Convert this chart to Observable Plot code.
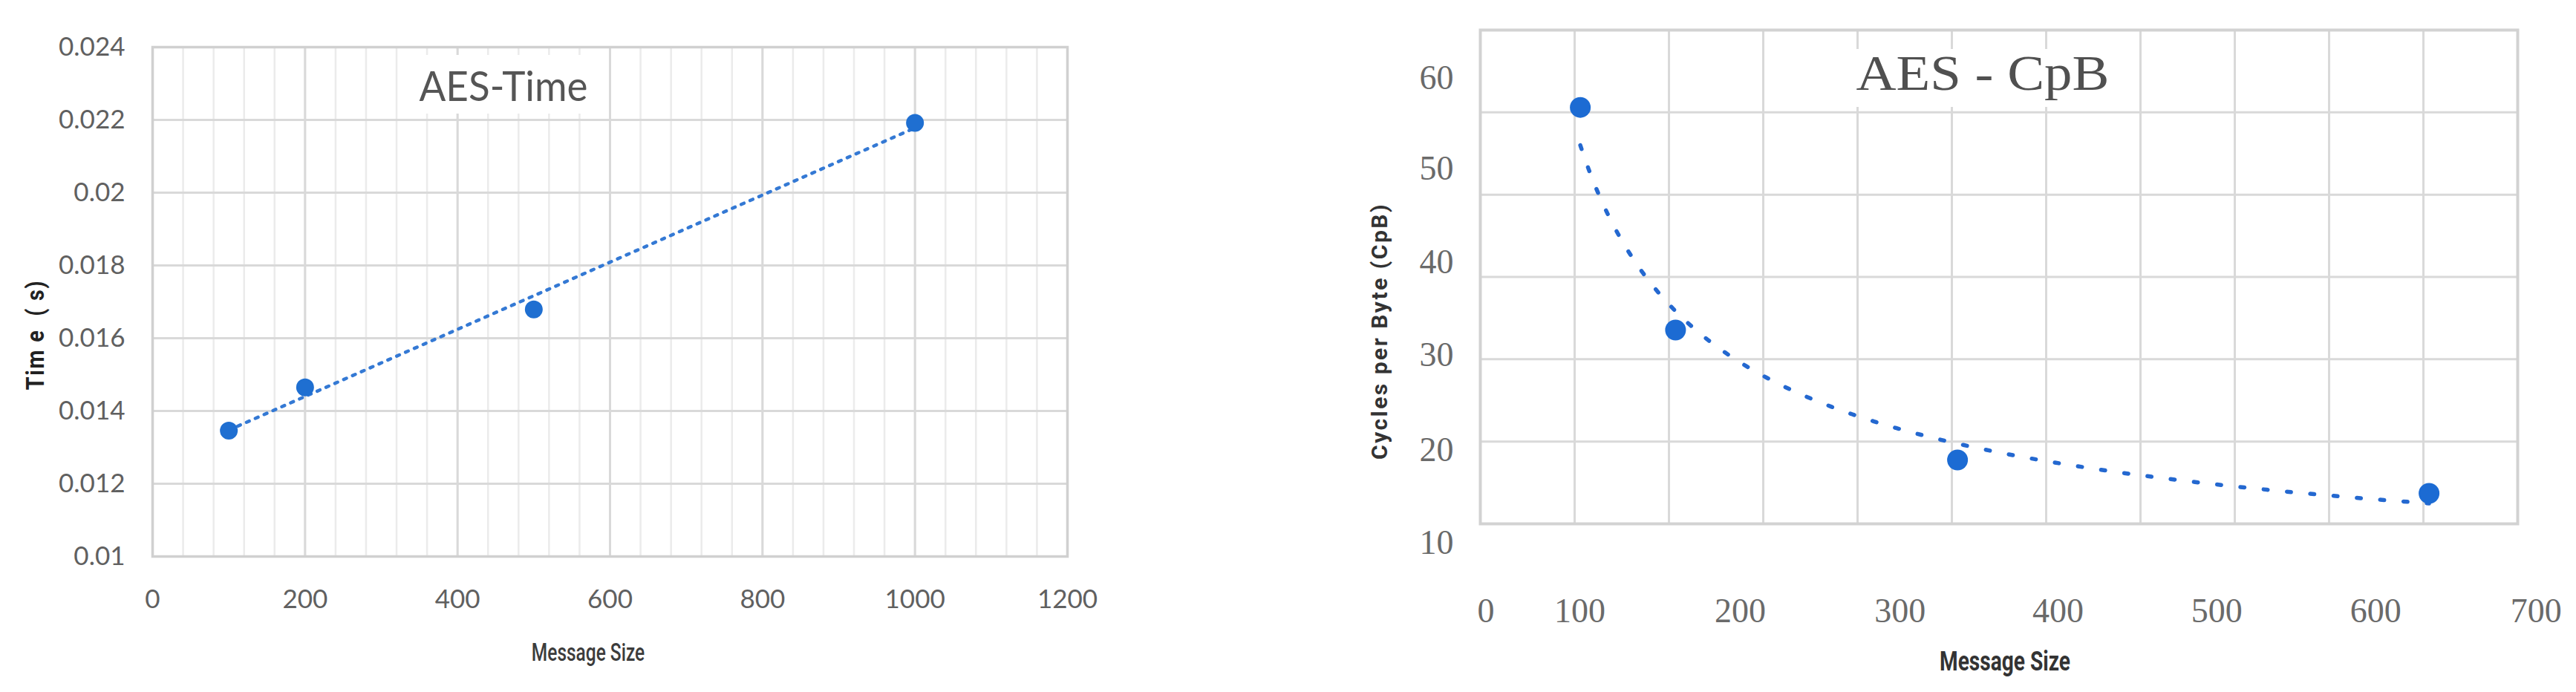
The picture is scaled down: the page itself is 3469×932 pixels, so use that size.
<!DOCTYPE html>
<html>
<head>
<meta charset="utf-8">
<script src="https://cdn.jsdelivr.net/npm/d3@7"></script>
<script src="https://cdn.jsdelivr.net/npm/@observablehq/plot@0.6"></script>
<style>
html, body { margin: 0; padding: 0; background: #fff; }
#page { position: relative; width: 3469px; height: 932px; overflow: hidden; background: #fff; }
.chart { position: absolute; top: 0; }
.lbl { position: absolute; white-space: nowrap; line-height: 1; transform-origin: 50% 50%; }
.box { position: absolute; background: #fff; }
</style>
</head>
<body>
<div id="page"></div>
<script>
// ---------- Left chart: AES-Time ----------
const timeSizes = [100, 200, 500, 1000];
const timeSeconds = [0.01346, 0.01465, 0.01679, 0.02192];
const timeXTicks = [0, 200, 400, 600, 800, 1000, 1200];
const timeYTicks = [0.01, 0.012, 0.014, 0.016, 0.018, 0.02, 0.022, 0.024];
const timeMinorStep = 40;

// ---------- Right chart: AES - CpB ----------
const cpbSizes = [106, 207, 506, 1006];
const cpbCycles = [60.6, 33.55, 17.76, 13.7];
const cpbGridX = [0, 100, 200, 300, 400, 500, 600, 700, 800, 900, 1000, 1100];
const cpbGridY = [10, 20, 30, 40, 50, 60, 70];
const cpbXTickAt = [6, 105.5, 275.5, 445, 612.5, 781, 949.5, 1119.5];
const cpbXTickLabels = ["0", "100", "200", "300", "400", "500", "600", "700"];
const cpbYTickAt = [7.65, 18.93, 30.48, 41.76, 53.13, 64.14];
const cpbYTickLabels = ["10", "20", "30", "40", "50", "60"];

const page = document.getElementById("page");

// Linear trend (Excel-style least squares) for the time chart
const timeData = timeSizes.map((x, i) => ({x, y: timeSeconds[i]}));
const mx = d3.mean(timeSizes), my = d3.mean(timeSeconds);
const slope = d3.sum(timeSizes, (x, i) => (x - mx) * (timeSeconds[i] - my)) / d3.sum(timeSizes, x => (x - mx) ** 2);
const icpt = my - slope * mx;
const timeTrend = d3.extent(timeSizes).map(x => ({x, y: icpt + slope * x}));

const left = Plot.plot({
  width: 1700, height: 932,
  marginLeft: 205, marginRight: 263, marginTop: 63, marginBottom: 183,
  x: {type: "linear", domain: [0, 1200]},
  y: {type: "linear", domain: [0.01, 0.024]},
  style: {fontFamily: "Lato, 'Open Sans', sans-serif", fontSize: "35px", color: "#606060", background: "transparent", overflow: "visible"},
  marks: [
    Plot.gridX({ticks: d3.range(0, 1201, timeMinorStep), stroke: "#ebebeb", strokeOpacity: 1, strokeWidth: 2.5}),
    Plot.gridX({ticks: timeXTicks, stroke: "#d9d9d9", strokeOpacity: 1, strokeWidth: 3}),
    Plot.gridY({ticks: timeYTicks, stroke: "#d9d9d9", strokeOpacity: 1, strokeWidth: 3}),
    Plot.frame({stroke: "#d0d0d0", strokeWidth: 3.5}),
    Plot.axisX({ticks: timeXTicks, tickSize: 0, tickPadding: 45, label: null, tickFormat: d => String(d)}),
    Plot.axisY({ticks: timeYTicks, tickSize: 0, tickPadding: 37, label: null, tickFormat: d => String(+d.toFixed(3))}),
    Plot.line(timeTrend, {x: "x", y: "y", stroke: "#3479d4", strokeWidth: 4.5, strokeDasharray: "4 9"}),
    Plot.dot(timeData, {x: "x", y: "y", r: 12, fill: "#1f6fd1", stroke: "none"})
  ]
});
left.classList.add("chart");
left.style.left = "0px";
page.appendChild(left);

// Power trend (least squares in log-log space) for the CpB chart
const cpbData = cpbSizes.map((x, i) => ({x, y: cpbCycles[i]}));
const lx = cpbSizes.map(Math.log), ly = cpbCycles.map(Math.log);
const mlx = d3.mean(lx), mly = d3.mean(ly);
const pb = d3.sum(lx, (v, i) => (v - mlx) * (ly[i] - mly)) / d3.sum(lx, v => (v - mlx) ** 2);
const pa = Math.exp(mly - pb * mlx);
const [px0, px1] = d3.extent(cpbSizes);
const cpbTrend = d3.range(0, 121).map(i => {
  const x = px0 * Math.pow(px1 / px0, i / 120);
  return {x, y: pa * Math.pow(x, pb)};
});

const right = Plot.plot({
  width: 1769, height: 932,
  marginLeft: 293, marginRight: 79, marginTop: 40, marginBottom: 227,
  x: {type: "linear", domain: [0, 1100]},
  y: {type: "linear", domain: [10, 70]},
  style: {fontFamily: "'Liberation Serif', 'DejaVu Serif', serif", fontSize: "46px", color: "#6a6a6a", background: "transparent", overflow: "visible"},
  marks: [
    Plot.gridX({ticks: cpbGridX, stroke: "#d9d9d9", strokeOpacity: 1, strokeWidth: 3}),
    Plot.gridY({ticks: cpbGridY, stroke: "#d9d9d9", strokeOpacity: 1, strokeWidth: 3}),
    Plot.frame({stroke: "#d2d2d2", strokeWidth: 4}),
    Plot.axisX({ticks: cpbXTickAt, tickSize: 0, tickPadding: 100, label: null,
      tickFormat: d => cpbXTickLabels[cpbXTickAt.indexOf(d)]}),
    Plot.axisY({ticks: cpbYTickAt, tickSize: 0, tickPadding: 36, label: null,
      tickFormat: d => cpbYTickLabels[cpbYTickAt.indexOf(d)]}),
    Plot.line(cpbTrend, {x: "x", y: "y", stroke: "#2468d0", strokeWidth: 5.5, strokeDasharray: "5.5 26"}),
    Plot.dot(cpbData, {x: "x", y: "y", r: 14, fill: "#1c6bd3", stroke: "none"})
  ]
});
right.classList.add("chart");
right.style.left = "1700px";
page.appendChild(right);

// ---------- Titles and axis titles ----------
function box(x, y, w, h) {
  const d = document.createElement("div");
  d.className = "box";
  Object.assign(d.style, {left: x + "px", top: y + "px", width: w + "px", height: h + "px"});
  page.appendChild(d);
}
function label(text, cx, cy, o) {
  const d = document.createElement("div");
  d.className = "lbl";
  d.textContent = text;
  Object.assign(d.style, {
    left: cx + "px", top: cy + "px",
    fontFamily: o.font, fontSize: o.size + "px", fontWeight: o.weight || 400,
    color: o.color, letterSpacing: (o.spacing || 0) + "px", whiteSpace: "pre",
    transform: `translate(-50%, -50%) rotate(${o.rotate || 0}deg) scaleX(${o.sx || 1})`
  });
  page.appendChild(d);
}

box(540, 74, 275, 79);
label("AES-Time", 678, 114, {font: "Lato, 'Open Sans', sans-serif", size: 57, color: "#555555", sx: 0.93});
label("Message Size", 792, 878, {font: "Roboto, 'DejaVu Sans', sans-serif", size: 34, weight: 500, color: "#3c3c3c", sx: 0.72});
label("Tim e  ( s)", 47, 451, {font: "Roboto, 'DejaVu Sans', sans-serif", size: 34, weight: 700, color: "#222222", rotate: -90, sx: 0.85, spacing: 2});

box(2478, 66, 388, 78);
label("AES - CpB", 2670, 98, {font: "'Liberation Serif', 'DejaVu Serif', serif", size: 68, color: "#505050", sx: 1.1});
label("Message Size", 2700, 891, {font: "Roboto, 'DejaVu Sans', sans-serif", size: 36, weight: 700, color: "#333333", sx: 0.78});
label("Cycles per Byte (CpB)", 1858, 446, {font: "Roboto, 'DejaVu Sans', sans-serif", size: 30, weight: 700, color: "#333333", rotate: -90, spacing: 2.5});
</script>
</body>
</html>
